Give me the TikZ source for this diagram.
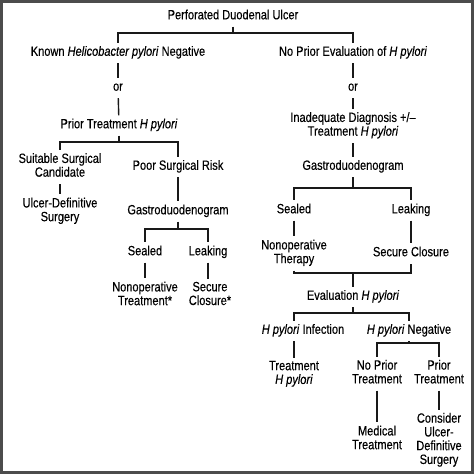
\documentclass[tikz,border=0pt]{standalone}
\usepackage{fontspec}
\setmainfont{Liberation Sans}[FakeStretch=0.82,FakeBold=0.3]
\begin{document}
\begin{tikzpicture}[x=1bp,y=-1bp,
  box/.style={align=center,inner sep=3bp,yshift=-2bp,
    font=\fontsize{13.5}{13.8}\selectfont,
    execute at begin node=\strut,execute at end node=\strut},
  link/.style={line width=1.4bp,draw=black!90}]
\useasboundingbox (0,0) rectangle (474,474);
\draw[line width=2.6bp,draw=black!70] (1.3,1.3) rectangle (472.7,472.7);

\node[box] (top) at (233,14.5) {Perforated Duodenal Ulcer};
\node[box] (known) at (118,51) {Known \textit{Helicobacter pylori} Negative};
\node[box] (or1) at (118,86) {or};
\node[box] (prior) at (119,123.5) {Prior Treatment \textit{H pylori}};
\node[box] (suit) at (60,165) {Suitable Surgical\\Candidate};
\node[box] (ulcer) at (60,209.5) {Ulcer-Definitive\\Surgery};
\node[box] (poor) at (178,165) {Poor Surgical Risk};
\node[box] (gastroA) at (178,209.5) {Gastroduodenogram};
\node[box] (sealA) at (145,250.5) {Sealed};
\node[box] (leakA) at (208,250.5) {Leaking};
\node[box] (nonopA) at (145,293.5) {Nonoperative\\Treatment*};
\node[box] (secureA) at (210,293.5) {Secure\\Closure*};

\node[box] (noeval) at (353,51) {No Prior Evaluation of \textit{H pylori}};
\node[box] (or2) at (353,86) {or};
\node[box] (inadeq) at (353,124) {Inadequate Diagnosis +/--\\Treatment \textit{H pylori}};
\node[box] (gastroB) at (353,165) {Gastroduodenogram};
\node[box] (sealB) at (294,208.5) {Sealed};
\node[box] (leakB) at (411,208.5) {Leaking};
\node[box] (nonopB) at (294,251.5) {Nonoperative\\Therapy};
\node[box] (secureB) at (411,251.5) {Secure Closure};
\node[box] (evalH) at (353,295) {Evaluation \textit{H pylori}};
\node[box] (infect) at (303,329) {\textit{H pylori} Infection};
\node[box] (negH) at (409,329) {\textit{H pylori} Negative};
\node[box] (treatH) at (294,372.5) {Treatment\\\textit{H pylori}};
\node[box] (noprior) at (377,371.7) {No Prior\\Treatment};
\node[box] (priorT) at (439,371.7) {Prior\\Treatment};
\node[box] (medical) at (377,437.5) {Medical\\Treatment};
\node[box] (consider) at (439,438.5) {Consider\\Ulcer-\\Definitive\\Surgery};

\draw[link] (top) -- (top |- 0,33) -| (known);
\draw[link] (top |- 0,33) -| (noeval);
\draw[link] (known) -- (or1);
\draw[link] (or1) -- (prior);
\draw[link] (prior) -- (prior |- 0,142) -| (suit);
\draw[link] (prior |- 0,142) -| (poor);
\draw[link] (suit) -- (ulcer);
\draw[link] (poor) -- (gastroA);
\draw[link] (gastroA) -- (gastroA |- 0,229) -| (sealA);
\draw[link] (gastroA |- 0,229) -| (leakA);
\draw[link] (sealA) -- (nonopA);
\draw[link] (leakA) -- (leakA |- secureA.north);

\draw[link] (noeval) -- (or2);
\draw[link] (or2) -- (inadeq);
\draw[link] (inadeq) -- (gastroB);
\draw[link] (gastroB) -- (gastroB |- 0,188) -| (sealB);
\draw[link] (gastroB |- 0,188) -| (leakB);
\draw[link] (sealB) -- (nonopB);
\draw[link] (leakB) -- (secureB);
\draw[link] (nonopB) |- (secureB |- 0,273) -- (secureB);
\draw[link] (evalH |- 0,273) -- (evalH);
\draw[link] (evalH) -- (evalH |- 0,313) -| (treatH |- infect.north);
\draw[link] (evalH |- 0,313) -| (negH);
\draw[link] (treatH |- infect.south) -- (treatH);
\draw[link] (negH) -- (negH |- 0,343) -| (noprior);
\draw[link] (negH |- 0,343) -| (priorT);
\draw[link] (noprior) -- (medical);
\draw[link] (priorT) -- (consider);
\end{tikzpicture}
\end{document}
